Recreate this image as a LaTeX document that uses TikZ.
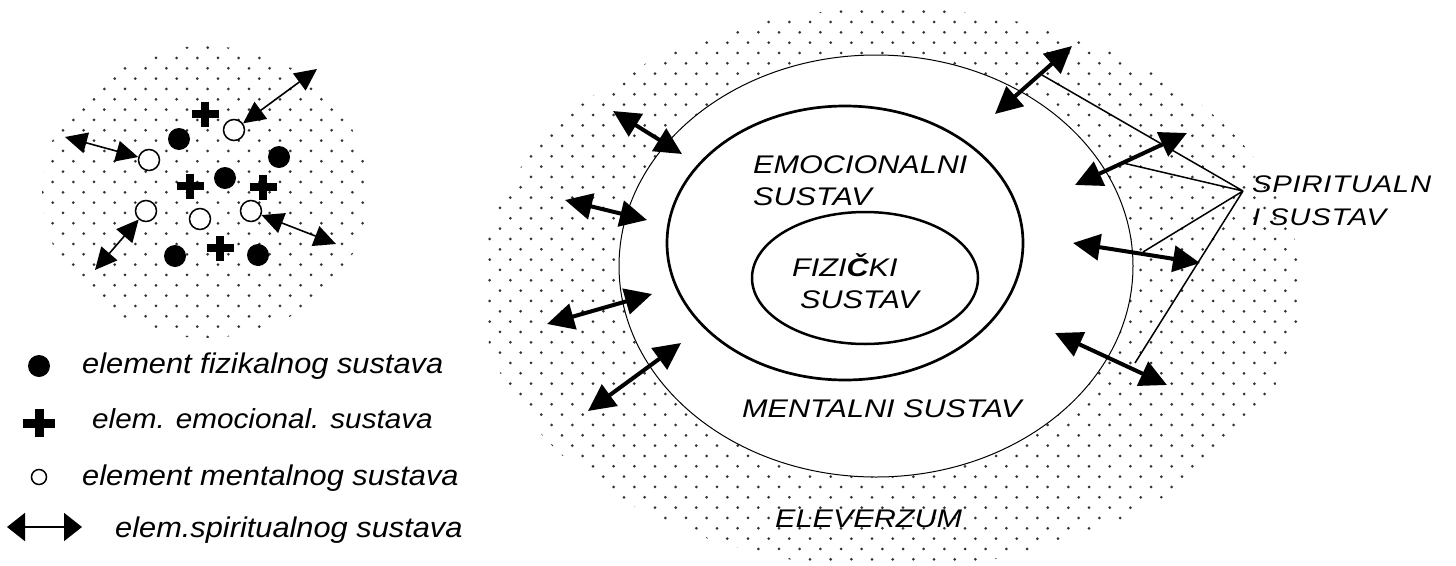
\documentclass[tikz,border=0pt]{standalone}
\usepackage{fontspec}
\setmainfont{Liberation Sans}
\newfontfamily\capsf{Liberation Sans}[FakeStretch=1.2]
\newfontfamily\spirf{Liberation Sans}[FakeStretch=1.22,LetterSpace=3]
\newfontfamily\legf{Liberation Sans}[FakeStretch=1.08]
\usetikzlibrary{arrows.meta}
\tikzset{
  dotc/.style={fill=black!80},
  fdot/.style={circle, fill=black, minimum size=22pt, inner sep=0pt},
  odot/.style={circle, draw=black, line width=1.5pt, fill=white, minimum size=21pt, inner sep=0pt},
  odotsmall/.style={circle, draw=black, line width=1.5pt, fill=white, minimum size=15pt, inner sep=0pt},
  thinarr/.style={line width=1.6pt, {Triangle[length=22pt,width=21pt]}-{Triangle[length=22pt,width=21pt]}},
  legarr/.style={line width=2pt, {Triangle[length=18pt,width=28pt]}-{Triangle[length=18pt,width=28pt]}},
  thickarr/.style={line width=4pt, {Triangle[length=27pt,width=26pt]}-{Triangle[length=27pt,width=26pt]}},
  spline/.style={line width=1.5pt},
  capstxt/.style={anchor=base west, inner sep=0pt, font=\capsf\itshape\fontsize{25.5}{30}\selectfont},
  spirtxt/.style={anchor=base west, inner sep=0pt, font=\spirf\itshape\fontsize{24}{28}\selectfont},
  legtxt/.style={anchor=base west, inner sep=0pt, font=\legf\itshape\fontsize{28.5}{32}\selectfont},
  legtxtsm/.style={anchor=base west, inner sep=0pt, font=\legf\itshape\fontsize{27.5}{32}\selectfont},
  pplus/.pic={\draw[line width=7.5pt] (-13.5,0)--(13.5,0) (0,-12.5)--(0,12.5);},
  pplusbig/.pic={\draw[line width=9pt] (-16,0)--(16,0) (0,-14)--(0,14);}
}
\begin{document}
\begin{tikzpicture}[x=1pt,y=-1pt]
\useasboundingbox (0,0) rectangle (1456,565);
% ---------- right: eleverzum dotted field ----------
\begin{scope}
  \clip (891,288) ellipse [x radius=410, y radius=280];
  \foreach \j in {0,...,55}{
    \foreach \i in {0,...,40}{
      \fill[dotc] ({479.33+20.667*\i+10.333*mod(\j,2)},{1.33+10.333*\j}) circle[radius=1.5];
    }
  }
\end{scope}
% ---------- left: dotted disc ----------
\begin{scope}
  \clip (205,192) ellipse [x radius=163, y radius=146];
  \foreach \j in {0,...,34}{
    \foreach \i in {1,...,18}{
      \fill[dotc] ({1+20.667*\i+10.333*mod(\j,2)},{6.3+10.333*\j}) circle[radius=1.5];
    }
  }
\end{scope}
% ---------- right ellipses ----------
\draw[line width=1pt, fill=white] (876,266) ellipse [x radius=257, y radius=211];
\draw[line width=2.7pt] (845,243) ellipse [x radius=178, y radius=137];
\draw[line width=2.5pt] (865,278) ellipse [x radius=113, y radius=66];
% texts
\node[capstxt] (emo1) at (753,173) {EMOCIONALNI};
\node[capstxt] (emo2) at (753,205) {SUSTAV};
\node[capstxt] (fiz1) at (792,276) {FIZI\textbf{Č}KI};
\node[capstxt] (fiz2) at (800,308) {SUSTAV};
\node[capstxt] (men) at (742,417) {MENTALNI SUSTAV};
\node[capstxt] (ele) at (775,527) {ELEVERZUM};
\node[spirtxt] (spi1) at (1252,192) {SPIRITUALN};
\node[spirtxt] (spi2) at (1252,225) {I SUSTAV};
% right arrows
\coordinate (a1s) at (613,111); \coordinate (a1e) at (682,154);
\coordinate (a2s) at (565,200); \coordinate (a2e) at (647,220);
\coordinate (a3s) at (547,324); \coordinate (a3e) at (652,294);
\coordinate (a4s) at (588,411); \coordinate (a4e) at (681,343);
\coordinate (a5s) at (1072,46); \coordinate (a5e) at (995,114);
\coordinate (a6s) at (1187,133); \coordinate (a6e) at (1075,185);
\coordinate (a7s) at (1073,243); \coordinate (a7e) at (1200,263);
\coordinate (a8s) at (1055,333); \coordinate (a8e) at (1167,385);
\foreach \k in {1,...,8}{ \draw[thickarr] (a\k s) -- (a\k e); }
% spiritual pointer lines
\coordinate (sp) at (1243,191);
\coordinate (l1) at (1042,75);
\coordinate (l2) at (1123,163);
\coordinate (l3) at (1143,252);
\coordinate (l4) at (1135,363);
\draw[spline] (l1) -- (sp) (l2) -- (sp) (l3) -- (sp) (l4) -- (sp);
% ---------- left elements ----------
\node[fdot] (f1) at (179,139) {};
\node[fdot] (f2) at (279,157) {};
\node[fdot] (f3) at (225,178) {};
\node[fdot] (f4) at (175,256) {};
\node[fdot] (f5) at (258,255) {};
\node[odot] (o1) at (234,130) {};
\node[odot] (o2) at (149,160) {};
\node[odot] (o3) at (146,211) {};
\node[odot] (o4) at (200,219) {};
\node[odot] (o5) at (251,211) {};
\pic (p1) at (205,114) {pplus};
\pic (p2) at (190,186) {pplus};
\pic (p3) at (263,187) {pplus};
\pic (p4) at (220,248) {pplus};
\coordinate (e1) at (317,69);
\coordinate (e2) at (65,137);
\coordinate (e3) at (95,270);
\coordinate (e4) at (336,244);
\draw[thinarr] (o1) -- (e1);
\draw[thinarr] (e2) -- (o2);
\draw[thinarr] (o3) -- (e3);
\draw[thinarr] (o5) -- (e4);
% ---------- legend ----------
\node[fdot] (lf) at (39,366) {};
\node[legtxt] (t1) at (82,373) {element fizikalnog sustava};
\pic (lp) at (39,423) {pplusbig};
\node[legtxtsm] (t2) at (92,428) {elem. emocional. sustava};
\node[odotsmall] (lo) at (39,477) {};
\node[legtxt] (t3) at (82,485) {element mentalnog sustava};
\coordinate (la1) at (7,527);
\coordinate (la2) at (82,527);
\draw[legarr] (la1) -- (la2);
\node[legtxt] (t4) at (115,537) {elem.spiritualnog sustava};
\end{tikzpicture}
\end{document}
